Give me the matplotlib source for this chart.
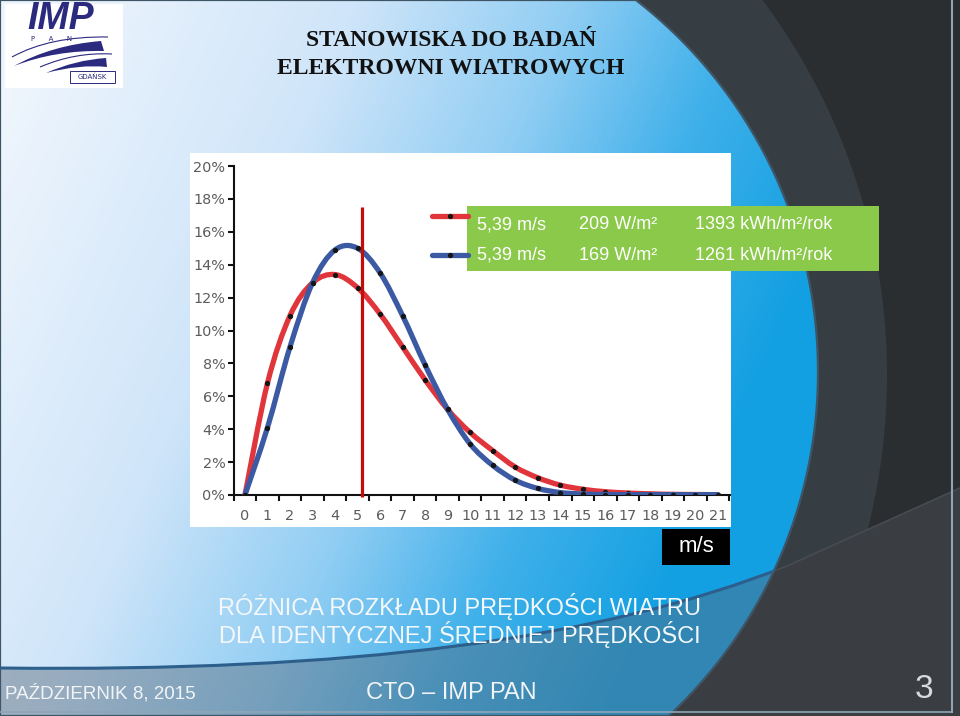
import numpy as np
import matplotlib
matplotlib.use("Agg")
import matplotlib.pyplot as plt
from matplotlib.patches import Rectangle, Polygon, PathPatch
from matplotlib.path import Path
from matplotlib.colors import LinearSegmentedColormap
from matplotlib import font_manager

# ---------------- data ----------------
speeds = list(range(22))  # m/s
red_pct = [0, 6.8, 10.9, 12.9, 13.4, 12.6, 11.0, 9.0, 7.0, 5.2, 3.8, 2.7,
           1.7, 1.05, 0.6, 0.35, 0.2, 0.12, 0.07, 0.04, 0.03, 0.02]
blue_pct = [0, 4.1, 9.0, 12.9, 14.9, 15.0, 13.5, 10.9, 7.9, 5.2, 3.1, 1.8,
            0.9, 0.4, 0.15, 0.06, 0.03, 0.02, 0.02, 0.02, 0.02, 0.02]
mean_line_x = 5.2
mean_line_top = 17.5
y_ticks = [0, 2, 4, 6, 8, 10, 12, 14, 16, 18, 20]
y_tick_labels = [f"{v}%" for v in y_ticks]
x_tick_labels = [str(s) for s in speeds]
legend_rows = [("5,39 m/s", "209 W/m²", "1393 kWh/m²/rok"),
               ("5,39 m/s", "169 W/m²", "1261 kWh/m²/rok")]
title_lines = ["STANOWISKA DO BADAŃ", "ELEKTROWNI WIATROWYCH"]
caption_lines = ["RÓŻNICA ROZKŁADU PRĘDKOŚCI WIATRU",
                 "DLA IDENTYCZNEJ ŚREDNIEJ PRĘDKOŚCI"]
footer_left = "PAŹDZIERNIK 8, 2015"
footer_mid = "CTO – IMP PAN"
page_no = "3"
unit_label = "m/s"

RED = "#e0353b"
BLUE = "#3b5aa3"

W, H = 960, 716
fig = plt.figure(figsize=(W / 100, H / 100), dpi=100)

names = {f.name for f in font_manager.fontManager.ttflist}
SANS = "Liberation Sans" if "Liberation Sans" in names else "DejaVu Sans"
SERIF = "Liberation Serif" if "Liberation Serif" in names else "DejaVu Serif"

# ---------------- background ----------------
bg = fig.add_axes([0, 0, 1, 1], zorder=0)
bg.set_xlim(0, W)
bg.set_ylim(H, 0)
bg.axis("off")

bg.add_patch(Rectangle((0, 0), W, H, fc="#2b2e31", ec="none", zorder=0))


def left_region(cx, cy, r, n=200):
    y = np.linspace(0, H, n)
    x = cx + np.sqrt(np.maximum(r ** 2 - (y - cy) ** 2, 0))
    pts = [(0, 0)] + list(zip(x, y)) + [(0, H)]
    return pts


ring = Polygon(left_region(260, 375, 627), closed=True, fc="#363d43",
               ec="none", zorder=1)
bg.add_patch(ring)

# bottom band (grey, over dark area)
band_verts = [(0, 668), (350, 672), (600, 640), (787, 566),
              (960, 488), (960, 716), (0, 716), (0, 668)]
band_codes = [Path.MOVETO, Path.CURVE4, Path.CURVE4, Path.CURVE4,
              Path.LINETO, Path.LINETO, Path.LINETO, Path.CLOSEPOLY]
band_path = Path(band_verts, band_codes)
bg.add_patch(PathPatch(band_path, fc="#3a3d41", ec="none", zorder=2))

# blue gradient region
blue_poly = Polygon(left_region(347, 372, 471), closed=True, fc="none",
                    ec="#3e5566", lw=1.6, zorder=4)
bg.add_patch(blue_poly)
yy, xx = np.mgrid[0:H, 0:W]
t = np.clip((xx - 50) / 700 * 0.8 + yy / 700 * 0.35, 0, 1)
cmap = LinearSegmentedColormap.from_list(
    "bg", [(0, "#eef5fd"), (0.35, "#cfe5f9"), (0.6, "#8fcdf3"),
           (0.8, "#3fb0ea"), (1, "#13a0e2")])
im = bg.imshow(cmap(t), extent=(0, W, H, 0), zorder=3, aspect="auto",
               interpolation="bilinear")
im.set_clip_path(blue_poly)
band_blue = PathPatch(band_path, fc="#56687a", ec="none", alpha=0.45, zorder=3.5)
bg.add_patch(band_blue)
band_blue.set_clip_path(blue_poly)
# band edge line
edge_path = Path(band_verts[:5], band_codes[:5])
edge = PathPatch(edge_path, fc="none", ec="#2d5f8c", lw=2.2, zorder=4.5)
bg.add_patch(edge)
edge.set_clip_path(blue_poly)
bg.add_patch(PathPatch(edge_path, fc="none", ec="#464c52", lw=1.2, zorder=2.5))
bg.set_xlim(0, W)
bg.set_ylim(H, 0)

# slide borders
bg.plot([952, 952], [0, 712], color="#8fa5b7", lw=1.5, zorder=5)
bg.plot([0, 952], [712, 712], color="#8fa5b7", lw=1.2, zorder=5)

# white chart panel
bg.add_patch(Rectangle((190, 153), 541, 374, fc="white", ec="none", zorder=6))

# logo
NAVY = "#2b2a7e"
bg.add_patch(Rectangle((5, 4), 118, 84, fc="white", ec="none", zorder=6))
bg.text(61, 19, "IMP", ha="center", va="center", fontsize=27, fontweight="bold",
        fontstyle="italic", color=NAVY, family=SANS, zorder=7)
bg.text(52, 39, "P      A      N", ha="center", va="center", fontsize=5,
        color=NAVY, family="DejaVu Sans", zorder=7)
sw1 = Path([(14, 66), (52, 45), (101, 41), (104, 51), (55, 50), (14, 66)],
           [Path.MOVETO, Path.CURVE3, Path.CURVE3, Path.LINETO, Path.CURVE3,
            Path.CURVE3])
bg.add_patch(PathPatch(sw1, fc=NAVY, ec="none", zorder=7))
sw2 = Path([(46, 73), (75, 60), (106, 58), (107, 67), (80, 64), (46, 73)],
           [Path.MOVETO, Path.CURVE3, Path.CURVE3, Path.LINETO, Path.CURVE3,
            Path.CURVE3])
bg.add_patch(PathPatch(sw2, fc=NAVY, ec="none", zorder=7))
arc = Path([(12, 57), (50, 36), (108, 37)], [Path.MOVETO, Path.CURVE3, Path.CURVE3])
bg.add_patch(PathPatch(arc, fc="none", ec=NAVY, lw=0.8, zorder=7))
arc2 = Path([(40, 67), (75, 52), (112, 54)], [Path.MOVETO, Path.CURVE3, Path.CURVE3])
bg.add_patch(PathPatch(arc2, fc="none", ec=NAVY, lw=0.8, zorder=7))
bg.add_patch(Rectangle((70, 71), 45, 12, fc="none", ec=NAVY, lw=0.7, zorder=7))
bg.text(92.5, 77, "GDAŃSK", ha="center", va="center", fontsize=5,
        color=NAVY, family="DejaVu Sans", zorder=7)

# titles
for i, line in enumerate(title_lines):
    bg.text(451, 40 + 28 * i, line, ha="center", va="center", fontsize=17,
            fontweight="bold", family=SERIF, color="#111111", zorder=7)

# caption and footer
for i, line in enumerate(caption_lines):
    bg.text(460, 606 + 29 * i, line, ha="center", va="center", fontsize=17,
            family=SANS, color="#f4f8fb", zorder=7)
bg.text(5, 693, footer_left, ha="left", va="center", fontsize=13.5,
        family=SANS, color="#f2f5f8", zorder=7)
bg.text(451, 693, footer_mid, ha="center", va="center", fontsize=17,
        family=SANS, color="#f2f5f8", zorder=7)
bg.text(924, 690, page_no, ha="center", va="center", fontsize=24,
        family=SANS, color="#d6dadd", zorder=7)

# ---------------- chart ----------------
x0_px, x1_px = 233.7, 730.3
y0_px, y1_px = 495, 166
ax = fig.add_axes([x0_px / W, (H - y0_px) / H, (x1_px - x0_px) / W,
                   (y0_px - y1_px) / H], zorder=2)
ax.patch.set_alpha(0)
ax.set_xlim(-0.5, 21.55)
ax.set_ylim(0, 20)
for s in ["top", "right"]:
    ax.spines[s].set_visible(False)
for s in ["left", "bottom"]:
    ax.spines[s].set_linewidth(1.5)
    ax.spines[s].set_color("#111111")

ax.set_yticks(y_ticks)
ax.set_yticklabels(y_tick_labels)
ax.tick_params(axis="y", direction="out", length=4.5, width=1.5, pad=1.5,
               labelsize=10.4, labelcolor="#5c5c5c", color="#111111")
ax.set_xticks(np.arange(-0.5, 22, 1.0))
ax.set_xticklabels([])
ax.set_xticks(speeds, minor=True)
ax.set_xticklabels(x_tick_labels, minor=True)
ax.tick_params(axis="x", which="major", direction="out", length=4.5, width=1.5,
               color="#111111")
ax.tick_params(axis="x", which="minor", length=0, pad=10, labelsize=10.4,
               labelcolor="#5c5c5c")
for lab in ax.get_xticklabels(minor=True) + ax.get_yticklabels():
    lab.set_family("DejaVu Sans")


def smooth_path(xs, ys):
    pts = np.column_stack([xs, ys]).astype(float)
    n = len(pts)
    verts = [pts[0]]
    codes = [Path.MOVETO]
    for i in range(n - 1):
        p0 = pts[i - 1] if i > 0 else pts[i]
        p1, p2 = pts[i], pts[i + 1]
        p3 = pts[i + 2] if i + 2 < n else pts[i + 1]
        verts += [p1 + (p2 - p0) / 6, p2 - (p3 - p1) / 6, p2]
        codes += [Path.CURVE4] * 3
    return Path(verts, codes)


for vals, col, z in [(red_pct, RED, 3), (blue_pct, BLUE, 4)]:
    ax.add_patch(PathPatch(smooth_path(speeds, vals), fc="none", ec=col,
                           lw=3.8, capstyle="round", joinstyle="round",
                           zorder=z))
    ax.plot(speeds, vals, "o", ms=2.8, color="#151515", zorder=z + 0.5)

ax.plot([mean_line_x, mean_line_x], [-0.15, mean_line_top], color="#c60b0b",
        lw=2.3, zorder=5, clip_on=False, solid_capstyle="butt")

# ---------------- top layer: legend & unit box ----------------
top = fig.add_axes([0, 0, 1, 1], zorder=3)
top.patch.set_alpha(0)
top.set_xlim(0, W)
top.set_ylim(H, 0)
top.axis("off")

for yl, col in [(216, RED), (255, BLUE)]:
    top.plot([432, 468], [yl, yl], color=col, lw=3.8, solid_capstyle="round")
    top.plot([450], [yl], "o", ms=2.8, color="#151515")
top.add_patch(Rectangle((467, 206), 412, 65, fc="#8bc94a", ec="none"))
col_x = [477, 579, 695]
for r, row in enumerate(legend_rows):
    for cx, txt in zip(col_x, row):
        top.text(cx, 229 + 31 * r, txt, ha="left", va="baseline", fontsize=13,
                 family=SANS, color="white")

top.add_patch(Rectangle((662, 529), 68, 36, fc="black", ec="none"))
top.text(696, 547, unit_label, ha="center", va="center", fontsize=16,
         family=SANS, color="white")

fig.savefig("out.png", dpi=100)
